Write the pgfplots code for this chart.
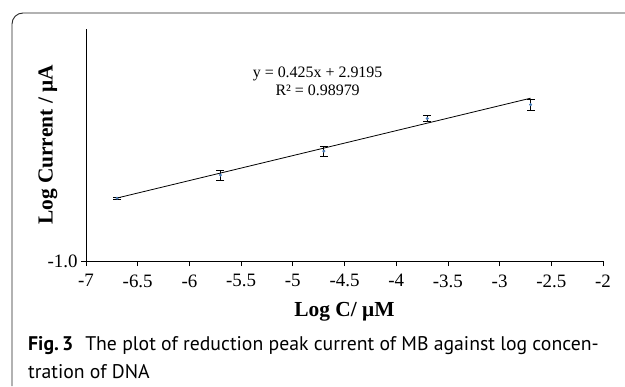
\documentclass[border=0pt]{standalone}
\usepackage{pgfplots}
\pgfplotsset{compat=1.18}
\usepackage{fontspec}
\setmainfont{Liberation Serif}
\newfontfamily\capfont{PT Sans}
\definecolor{ptblue}{RGB}{74,126,187}
\begin{document}
\begin{tikzpicture}[x=1bp,y=1bp]
\useasboundingbox (0,0) rectangle (625,386);
\draw[line width=0.9bp, black!85] (12,0) -- (12,362) arc[start angle=180,end angle=90,radius=11] -- (625,373);
\begin{axis}[
  at={(86bp,125bp)}, anchor=south west,
  scale only axis, width=517bp, height=232bp,
  xmin=-7, xmax=-2, ymin=-1, ymax=2.95,
  axis x line*=bottom, axis y line*=left,
  xtick={-7,-6.5,-6,-5.5,-5,-4.5,-4,-3.5,-3,-2.5,-2},
  xticklabels={-7,-6.5,-6,-5.5,-5,-4.5,-4,-3.5,-3,-2.5,-2},
  ytick={-1}, yticklabels={-1.0},
  tick align=outside, major tick length=5bp,
  tick style={black, line width=0.8bp},
  axis line style={black, line width=0.8bp, -},
  tick label style={font=\fontsize{19}{19}\selectfont},
  xticklabel style={yshift=-5bp},
  xlabel={Log C/ μM}, ylabel={Log Current / μA},
  label style={font=\bfseries\fontsize{21.5}{21.5}\selectfont},
  xlabel style={at={(axis description cs:0.5,-0.22)}, anchor=center},
  ylabel style={at={(axis description cs:-0.0735,0.5)}, anchor=center},
  clip=false,
]
\addplot[black, line width=0.8bp, no marks] coordinates {(-6.7,0.0720) (-2.7,1.772)};
\addplot[only marks, mark=*, mark size=1.3bp, color=ptblue,
  error bars/.cd, y dir=both, y explicit,
  error bar style={black, line width=0.7bp},
  error mark options={rotate=90, black, mark size=4bp, line width=0.7bp}]
  table[x=x, y=y, y error=e] {
x y e
-6.7 0.070 0.020
-5.7 0.463 0.085
-4.7 0.871 0.085
-3.7 1.427 0.045
-2.7 1.663 0.090
};
\node[align=center, font=\fontsize{16}{18}\selectfont] at (axis cs:-4.76,2.06) {y = 0.425x + 2.9195\\R² = 0.98979};
\end{axis}
\node[anchor=base west, inner sep=0, font=\capfont\fontsize{19.8}{19.8}\selectfont] at (28,36) {\textbf{Fig.\,3}\hspace{0.6em}The plot of reduction peak current of MB against log concen-};
\node[anchor=base west, inner sep=0, font=\capfont\fontsize{19.8}{19.8}\selectfont] at (28,8) {tration of DNA};
\end{tikzpicture}
\end{document}
